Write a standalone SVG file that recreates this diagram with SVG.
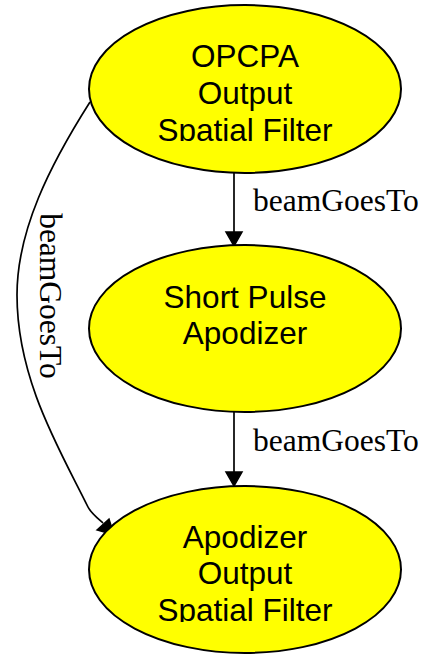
<svg xmlns="http://www.w3.org/2000/svg" width="427" height="654" viewBox="0 0 427 654">
  <style>
    .node ellipse { fill: #ffff00; stroke: #000000; stroke-width: 2; }
    .node text { font-family: "Liberation Sans", Arial, sans-serif; font-size: 31.5px; fill: #000000; text-anchor: middle; }
    .edge path, .edge line { fill: none; stroke: #000000; stroke-width: 1.7; }
    .edge polygon { fill: #000000; stroke: #000000; stroke-width: 1.5; }
    .elabel { font-family: "Liberation Serif", "Times New Roman", serif; font-size: 31.5px; fill: #000000; }
  </style>
  <defs>
    <clipPath id="clipTop"><rect x="0" y="0" width="427" height="141"/></clipPath>
    <clipPath id="clipBottom"><rect x="0" y="400" width="427" height="222"/></clipPath>
  </defs>
  <rect width="427" height="654" fill="#ffffff"/>

  <g id="edges" class="edge">
    <!-- OPCPA filter -> Short Pulse Apodizer -->
    <line x1="234" y1="173" x2="234" y2="232"/>
    <polygon points="226,232 242,232 234,246"/>
    <text class="elabel" x="253" y="211">beamGoesTo</text>

    <!-- Short Pulse Apodizer -> Apodizer filter -->
    <line x1="234" y1="412" x2="234" y2="472"/>
    <polygon points="226,472 242,472 234,486"/>
    <text class="elabel" x="253" y="451">beamGoesTo</text>

    <!-- OPCPA filter -> Apodizer filter (bypass) -->
    <path d="M90,102 C50,165 17,230 17,295 C17,380 60,450 88,507 C91,513 96,517 103,523"/>
    <polygon points="97,530 109,519 114,535"/>
    <text class="elabel" transform="translate(40,296) rotate(90)" x="0" y="0" text-anchor="middle">beamGoesTo</text>
  </g>

  <g id="opcpa_output_spatial_filter" class="node">
    <ellipse cx="245" cy="89" rx="156" ry="84"/>
    <g clip-path="url(#clipTop)">
      <text x="245" y="67">OPCPA</text>
      <text x="245" y="103.5">Output</text>
      <text x="245" y="140.5">Spatial Filter</text>
    </g>
  </g>

  <g id="short_pulse_apodizer" class="node">
    <ellipse cx="245" cy="328.5" rx="156" ry="83.5"/>
    <text x="245" y="307.5">Short Pulse</text>
    <text x="245" y="344">Apodizer</text>
  </g>

  <g id="apodizer_output_spatial_filter" class="node">
    <ellipse cx="245" cy="569.5" rx="156" ry="83.5"/>
    <g clip-path="url(#clipBottom)">
      <text x="245" y="547.5">Apodizer</text>
      <text x="245" y="584">Output</text>
      <text x="245" y="621">Spatial Filter</text>
    </g>
  </g>
</svg>
